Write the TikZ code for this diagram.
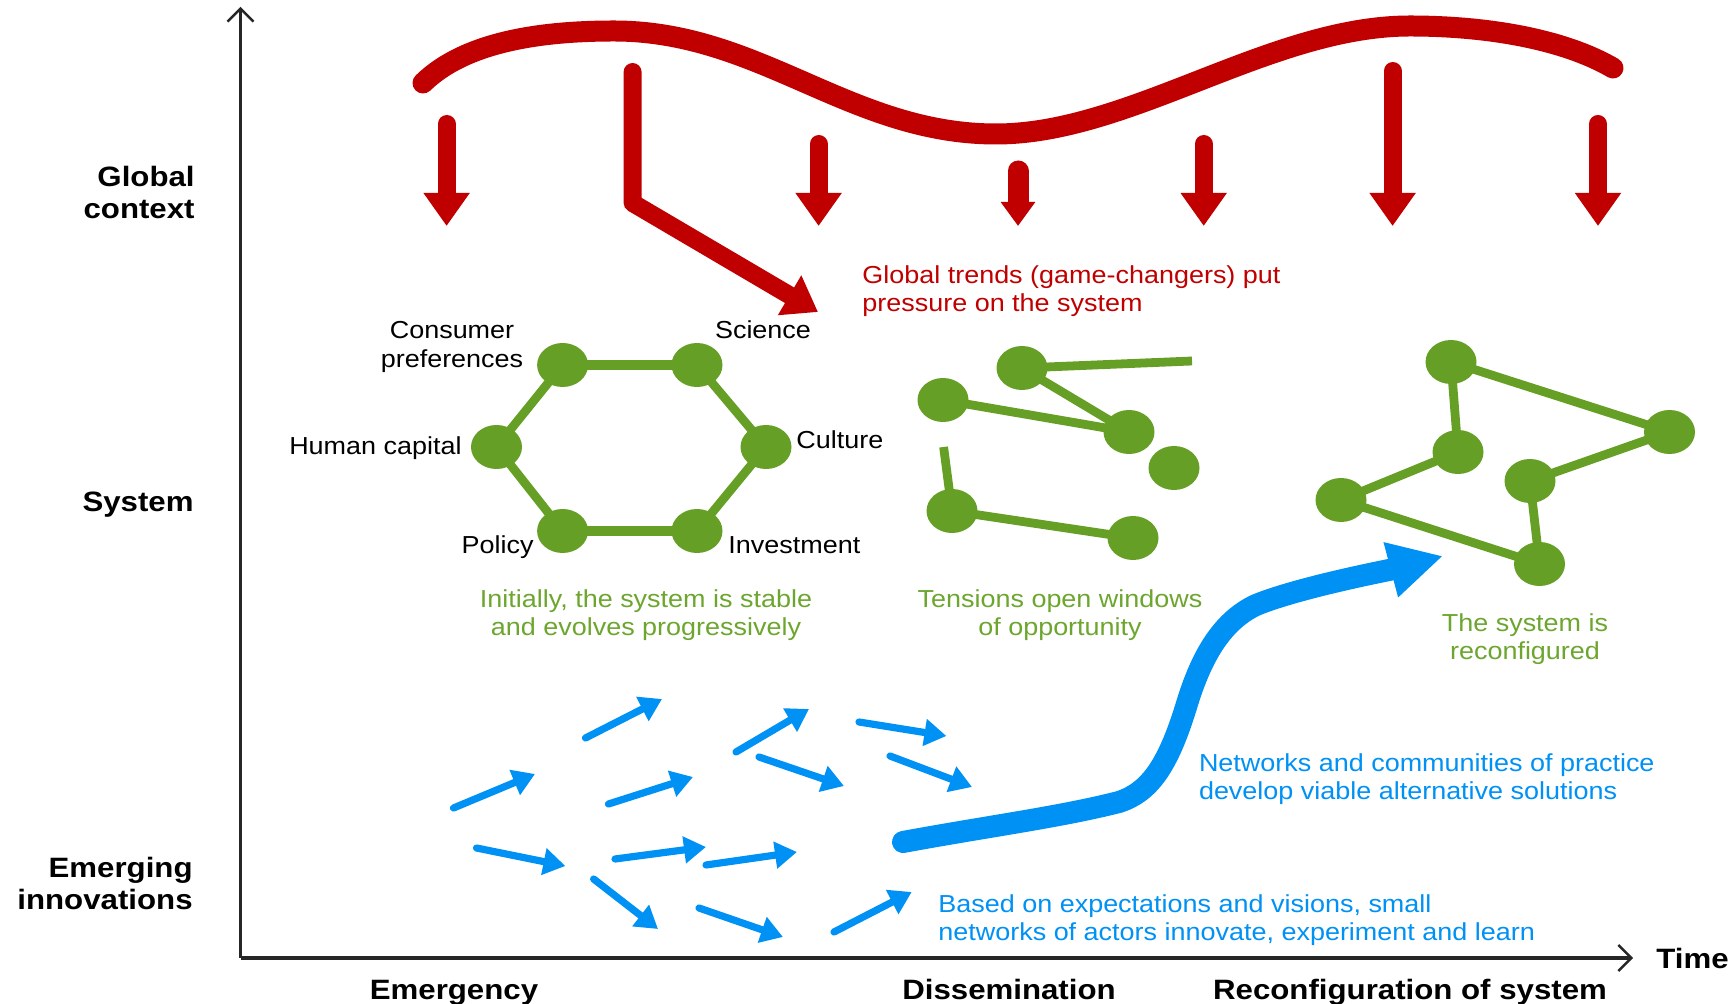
\documentclass[tikz,border=0pt]{standalone}
\usepackage{fontspec}
\setmainfont{Liberation Sans}[FakeStretch=1.096,BoldFeatures={FakeStretch=1.115}]
\usetikzlibrary{arrows.meta,shapes.geometric}
\definecolor{cred}{HTML}{C00000}
\definecolor{cgreen}{HTML}{669F25}
\definecolor{cgtext}{HTML}{6DA62F}
\definecolor{cblue}{HTML}{0091F5}
\tikzset{
  axisline/.style={draw=black!85,line width=1.6pt,-{Straight Barb[length=6.5pt,width=13pt,line width=1.2pt]}},
  wave/.style={draw=cred,line width=10.5pt,line cap=round},
  redarrow/.style={draw=cred,line width=9pt,line cap=round,-{Triangle[length=16.5pt,width=22pt,fill=cred]}},
  bluearrow/.style={draw=cblue,line width=3.6pt,line cap=round,-{Triangle[length=11pt,width=13pt,fill=cblue]}},
  bigblue/.style={draw=cblue,line width=11pt,line cap=round,-{Triangle[length=27pt,width=26.5pt,fill=cblue]}},
  gnode/.style={ellipse,fill=cgreen,minimum width=25.5pt,minimum height=22pt,inner sep=0pt,outer sep=-1pt},
  gedge/.style={draw=cgreen,line width=4.4pt},
  txt/.style={inner sep=0pt,font=\fontsize{12.3}{14.35}\selectfont},
  blabel/.style={inner sep=0pt,font=\fontsize{14}{16}\selectfont\bfseries},
}
\begin{document}
\begin{tikzpicture}[x=0.5pt,y=-0.5pt]
\useasboundingbox (0,0) rectangle (1729,1004);
% axes
\coordinate (origin) at (240.5,958);
\coordinate (ytop) at (240.5,7);
\coordinate (xend) at (1633,958);
\draw[axisline] (origin) -- (ytop);
\draw[axisline] (origin) -- (xend);
% wave
\coordinate (w0) at (423,83);
\coordinate (w1) at (614,31);
\coordinate (w2) at (996,134);
\coordinate (w3) at (1410,26);
\coordinate (w4) at (1613,68);
\draw[wave] (w0) .. controls (465,42) and (540,31) .. (w1)
  .. controls (760,31) and (850,134) .. (w2)
  .. controls (1130,134) and (1270,26) .. (w3)
  .. controls (1490,26) and (1565,40) .. (w4);
% red arrows
\foreach \n/\x/\t in {a/446.6/124, b/818.6/144, d/1203.7/144, e/1392.6/71, f/1598/124}{
  \coordinate (r\n s) at (\x,\t);
  \coordinate (r\n e) at (\x,226);
  \draw[redarrow] (r\n s) -- (r\n e);
}
\coordinate (rcs) at (1018,171);
\coordinate (rce) at (1018,226);
\draw[redarrow,line width=10.5pt,-{Triangle[length=12pt,width=16.5pt,fill=cred]}] (rcs) -- (rce);
\coordinate (rbs) at (632.6,72);
\coordinate (rbm) at (632.6,203);
\coordinate (rbe) at (818,312);
\draw[redarrow,line join=round] (rbs) -- (rbm) -- (rbe);
% hexagon
\node[gnode] (cp) at (562.6,365) {};
\node[gnode] (sc) at (697,365) {};
\node[gnode] (hc) at (496.5,447) {};
\node[gnode] (cu) at (766,447) {};
\node[gnode] (po) at (562.6,531) {};
\node[gnode] (iv) at (697,531) {};
\draw[gedge,line width=4.8pt] (cp)--(sc) (po)--(iv);
\draw[gedge] (sc)--(cu)--(iv) (po)--(hc)--(cp);
% middle network
\node[gnode] (ma) at (1022,368) {};
\node[gnode] (mb) at (943,400) {};
\node[gnode] (mc) at (1129,432) {};
\node[gnode] (md) at (1174,468) {};
\node[gnode] (me) at (952,511) {};
\node[gnode] (mf) at (1133,538) {};
\coordinate (mfa) at (1192,361);
\coordinate (mfe) at (943.6,447);
\draw[gedge] (ma)--(mfa) (ma)--(mc) (mb)--(mc) (me)--(mfe) (me)--(mf);
% right network
\node[gnode] (ng) at (1451,362) {};
\node[gnode] (nh) at (1669.5,432) {};
\node[gnode] (ni) at (1458,452) {};
\node[gnode] (nj) at (1530,481) {};
\node[gnode] (nk) at (1341,500) {};
\node[gnode] (nl) at (1539.5,564) {};
\draw[gedge] (ng)--(nh) (ng)--(ni) (ni)--(nk) (nh)--(nj) (nk)--(nl) (nj)--(nl);
% small blue arrows
\foreach \i/\a/\b/\c/\d in {
 1/585.5/738/662/699, 2/736/752/809/709, 3/859/722/946.4/736, 4/890/756/972/787,
 5/759/757/844/786, 6/453.5/808/535/774, 7/608.5/804/693/777, 8/476.5/848/565.4/866,
 9/615/859/706/847, 10/706/865/797/852, 11/593.6/879/658/929, 12/699/908/783/937,
 13/834/932/911.7/892}{
  \coordinate (bs\i) at (\a,\b);
  \coordinate (be\i) at (\c,\d);
  \draw[bluearrow] (bs\i) -- (be\i);
}
% big blue arrow
\coordinate (bb0) at (903,842);
\coordinate (bb1) at (1119,802);
\coordinate (bb2) at (1186,707);
\coordinate (bb3) at (1256,605);
\coordinate (bb4) at (1443,556);
\draw[bigblue] (bb0) .. controls (990,826) and (1060,817) .. (bb1)
  .. controls (1150,792) and (1168,765) .. (bb2)
  .. controls (1200,660) and (1220,622) .. (bb3)
  .. controls (1300,587) and (1390,570) .. (bb4);
% axis labels
\node[blabel,anchor=east,align=right] (lg) at (195,192) {Global\\context};
\node[blabel,anchor=east] (ls) at (194,505) {System};
\node[blabel,anchor=east,align=right] (le) at (193,883) {Emerging\\innovations};
\node[blabel,anchor=base] (te) at (454,999.5) {Emergency};
\node[blabel,anchor=base] (td) at (1009,999.5) {Dissemination};
\node[blabel,anchor=base] (tr) at (1410,999.5) {Reconfiguration of system};
\node[blabel,anchor=west] (tt) at (1656,958) {Time};
% node labels
\node[txt,align=center] (t1) at (452,347) {Consumer\\preferences};
\node[txt] (t2) at (763,330) {Science};
\node[txt,anchor=east] (t3) at (462,448.5) {Human capital};
\node[txt,anchor=west] (t4) at (796,440) {Culture};
\node[txt,anchor=east] (t5) at (534,547) {Policy};
\node[txt,anchor=west] (t6) at (728,545) {Investment};
% captions
\node[txt,text=cred,anchor=west,align=left] (c1) at (862,291) {Global trends (game-changers) put\\pressure on the system};
\node[txt,text=cgtext,align=center] (c2) at (646,615) {Initially, the system is stable\\and evolves progressively};
\node[txt,text=cgtext,align=center] (c3) at (1060,615) {Tensions open windows\\of opportunity};
\node[txt,text=cgtext,align=center] (c4) at (1525,639) {The system is\\reconfigured};
\node[txt,text=cblue,anchor=west,align=left] (c5) at (1198.6,779) {Networks and communities of practice\\develop viable alternative solutions};
\node[txt,text=cblue,anchor=west,align=left] (c6) at (938,920) {Based on expectations and visions, small\\networks of actors innovate, experiment and learn};
\end{tikzpicture}
\end{document}
